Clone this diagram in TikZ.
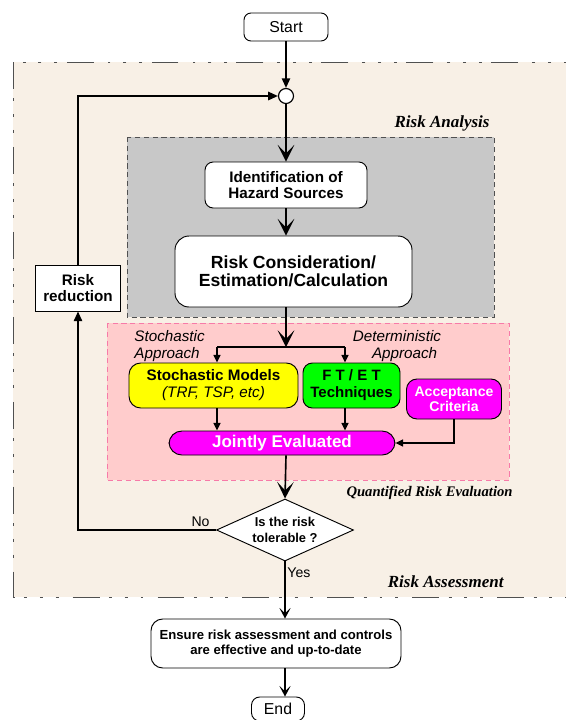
\documentclass[tikz,border=0pt]{standalone}
\usepackage{fontspec}
\setmainfont{Liberation Sans}
\newfontfamily\timesfont{Liberation Serif}
\usetikzlibrary{positioning,arrows.meta,shapes.geometric}

\definecolor{beige}{HTML}{F8F0E6}
\definecolor{boxgray}{HTML}{C8C8C8}
\definecolor{pinkfill}{HTML}{FFCCCC}
\definecolor{pinkline}{HTML}{F77AA8}
\definecolor{framegray}{HTML}{505050}
\definecolor{modelyellow}{HTML}{FFFF00}
\definecolor{techgreen}{HTML}{00FF00}
\definecolor{evalmagenta}{HTML}{FF00FF}

\tikzset{
flowbox/.style={rectangle,rounded corners=7pt,draw,fill=white,align=center,inner sep=1pt},
termbox/.style={rectangle,rounded corners=6pt,draw,fill=white,align=center,inner sep=1pt,font=\fontsize{13.5}{15}\selectfont},
tri/.style={-{Triangle[length=2.9mm,width=2.5mm]}},
smalltri/.style={-{Triangle[length=2.3mm,width=2.1mm]}},
vhead/.style={-{Stealth[length=5mm,width=5mm,inset=2.6mm]}},
midhead/.style={-{Stealth[length=3.2mm,width=3.4mm,inset=1.6mm]}},
zonetitle/.style={anchor=east,inner sep=0pt,font=\timesfont\bfseries\itshape}
}

\begin{document}
\begin{tikzpicture}[x=0.03cm,y=-0.03cm,line width=0.8pt]
\clip (0,0) rectangle (566,720);
\fill[white] (0,0) rectangle (566,720);
\draw[framegray,fill=beige,dash pattern=on 23pt off 8pt on 2.5pt off 11pt on 2.5pt off 11pt on 2.5pt off 12pt] (13,62) rectangle (580,597);
\draw[framegray,fill=boxgray,dash pattern=on 4.5pt off 3pt] (127,137) rectangle (494,317);
\draw[pinkline,fill=pinkfill,dash pattern=on 4.5pt off 3pt] (107,323) rectangle (509,480);

\node[zonetitle,font=\timesfont\bfseries\itshape\fontsize{14.5}{16}\selectfont](analysis) at (490,123) {Risk Analysis};
\node[zonetitle,font=\timesfont\bfseries\itshape\fontsize{12.5}{14}\selectfont](quant) at (513,493) {Quantified Risk Evaluation};
\node[zonetitle,font=\timesfont\bfseries\itshape\fontsize{14.5}{16}\selectfont](assess) at (504,582) {Risk Assessment};

\node[termbox](start) at (286,27) [minimum width=2.52cm,minimum height=0.84cm] {Start};
\node[circle,draw,fill=white,minimum size=0.45cm,inner sep=0pt,line width=1pt](junc) at (286,96) {};
\node[flowbox](ident) at (286,185) [minimum width=4.86cm,minimum height=1.38cm,
font=\fontsize{13}{14}\selectfont\bfseries] {Identification of\\Hazard Sources};
\node[flowbox,rounded corners=12pt](cons) at (293.5,271.5) [minimum width=7.11cm,minimum height=2.13cm,
font=\fontsize{15}{15}\selectfont\bfseries] {Risk Consideration/\\Estimation/Calculation};
\node[rectangle,draw,fill=white,align=center,inner sep=1pt](reduce) at (78,288) [minimum width=2.55cm,minimum height=1.38cm,
font=\fontsize{13}{14}\selectfont\bfseries] {Risk\\reduction};

\node[anchor=west,align=left,inner sep=0pt](stochlbl) at (134,346) [font=\fontsize{13}{15}\selectfont\itshape] {Stochastic\\Approach};
\node[align=center,inner sep=0pt](detlbl) at (397,346) [font=\fontsize{13}{15}\selectfont\itshape] {Deterministic\\\hspace*{1em}Approach};

\node[flowbox,fill=modelyellow,rounded corners=10pt](stoch) at (213.5,385.5) [minimum width=5.07cm,minimum height=1.35cm,
font=\fontsize{13}{14.5}\selectfont] {\textbf{Stochastic Models}\\\textit{(TRF, TSP, etc)}};
\node[flowbox,fill=techgreen,rounded corners=8pt](ftet) at (351.5,385.5) [minimum width=2.91cm,minimum height=1.35cm,
font=\fontsize{12.8}{14.5}\selectfont\bfseries] {F T / E T\\Techniques};
\node[flowbox,fill=evalmagenta,text=white,rounded corners=9pt](accept) at (454,399) [minimum width=2.85cm,minimum height=1.2cm,
font=\fontsize{12}{12.8}\selectfont\bfseries] {Acceptance\\Criteria};
\node[flowbox,fill=evalmagenta,text=white,rounded corners=11pt](joint) at (282,443) [minimum width=6.78cm,minimum height=0.72cm,
font=\fontsize{14.5}{16}\selectfont\bfseries] {Jointly Evaluated};

\node[diamond,draw,fill=white,align=center,inner sep=0pt,aspect=2.2](dia) at (285,530) [minimum width=4.11cm,minimum height=1.86cm,
font=\fontsize{11}{13.5}\selectfont\bfseries] {Is the risk\\tolerable ?};
\node[anchor=south east,inner sep=0pt](nolbl) at (210,527) [font=\fontsize{12}{14}\selectfont] {No};
\node[anchor=west,inner sep=0pt](yeslbl) at (287,573) [font=\fontsize{12}{14}\selectfont] {Yes};

\node[flowbox,rounded corners=10pt](ensure) at (276,643.5) [minimum width=7.5cm,minimum height=1.47cm,
font=\fontsize{11.2}{12.5}\selectfont\bfseries] {Ensure risk assessment and controls\\are effective and up-to-date};
\node[termbox,rounded corners=7pt](finish) at (278,709) [minimum width=1.59cm,minimum height=0.72cm] {End};

\coordinate (split) at (286,347);
\coordinate (sl) at (217,347);
\coordinate (sr) at (345,347);

\draw[tri,line width=1.4pt] (start) -- (junc);
\draw[vhead,line width=1.4pt] (junc) -- (ident);
\draw[vhead,line width=1.4pt] (ident.south) -- (ident.south |- cons.north);
\draw[vhead,line width=1.4pt] (cons.south -| junc) -- (split);
\draw[line width=1.2pt] (sl) -- (sr);
\draw[smalltri,line width=1.2pt] (sl) -- (sl |- stoch.north);
\draw[smalltri,line width=1.2pt] (sr) -- (sr |- ftet.north);
\draw[smalltri,line width=1.2pt] (stoch.south -| sl) -- (sl |- joint.north);
\draw[smalltri,line width=1.2pt] (ftet.south -| sr) -- (sr |- joint.north);
\draw[smalltri,line width=1.2pt] (accept.south) |- (joint.east);
\draw[vhead,line width=1.4pt] (joint.south -| split) -- (dia.north);
\draw[tri,line width=1.4pt] (dia.west) -| (reduce.south);
\draw[tri,line width=1.4pt] (reduce.north) |- (junc.west);
\draw[midhead,line width=1.4pt] (dia.south) -- (dia.south |- ensure.north);
\draw[midhead,line width=1.4pt] (ensure.south -| dia.south) -- (dia.south |- finish.north);
\end{tikzpicture}
\end{document}
